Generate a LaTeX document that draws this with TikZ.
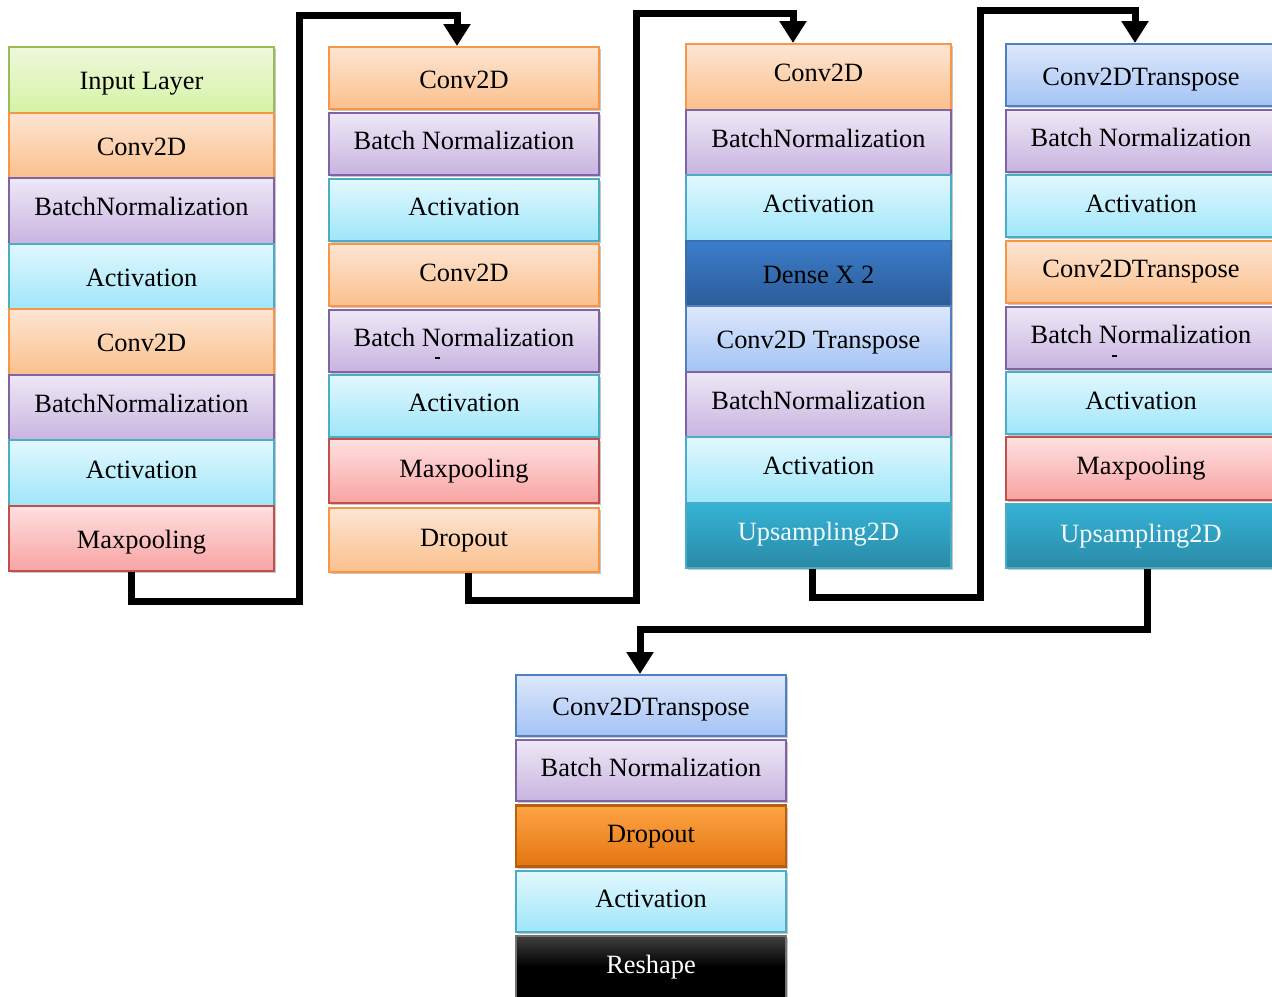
\documentclass[tikz,border=0pt]{standalone}
\usepackage{fontspec}
\setmainfont{Liberation Serif}
\usetikzlibrary{shadows,arrows.meta}
\definecolor{gTop}{HTML}{EEF8DC}\definecolor{gBot}{HTML}{D5F3A5}\definecolor{gLn}{HTML}{9BBB59}
\definecolor{oTop}{HTML}{FDE5D3}\definecolor{oBot}{HTML}{FBC08C}\definecolor{oLn}{HTML}{F79646}
\definecolor{pTop}{HTML}{EEE8F6}\definecolor{pBot}{HTML}{C8B4E0}\definecolor{pLn}{HTML}{8064A2}
\definecolor{cTop}{HTML}{E2F8FE}\definecolor{cBot}{HTML}{9FE6FA}\definecolor{cLn}{HTML}{4BACC6}
\definecolor{rTop}{HTML}{FEE0E0}\definecolor{rBot}{HTML}{F8A3A2}\definecolor{rLn}{HTML}{C0504D}
\definecolor{bTop}{HTML}{DEE8FB}\definecolor{bBot}{HTML}{A3C3F5}\definecolor{bLn}{HTML}{4F81BD}
\definecolor{dTop}{HTML}{3C7DCB}\definecolor{dBot}{HTML}{2B5C98}\definecolor{dLn}{HTML}{3A6FAF}
\definecolor{uTop}{HTML}{35B3D6}\definecolor{uBot}{HTML}{2A8AA6}\definecolor{uLn}{HTML}{4BACC6}
\definecolor{xTop}{HTML}{FFA445}\definecolor{xBot}{HTML}{E27510}\definecolor{xLn}{HTML}{B86010}
\begin{document}
\begin{tikzpicture}[x=0.5pt,y=-0.5pt,
 lay/.style={draw, line width=1pt, inner sep=0pt, text height=13pt, text depth=3pt,
   font=\fontsize{13.2}{15}\selectfont,
   drop shadow={shadow xshift=0.8pt, shadow yshift=-1.2pt, opacity=0.22, fill=black}},
 hi/.style={text depth=8pt},
 mid/.style={text depth=7pt},
 green/.style={top color=gTop, bottom color=gBot, draw=gLn},
 orange/.style={top color=oTop, bottom color=oBot, draw=oLn},
 purple/.style={top color=pTop, bottom color=pBot, draw=pLn},
 cyan/.style={top color=cTop, bottom color=cBot, draw=cLn},
 red/.style={top color=rTop, bottom color=rBot, draw=rLn},
 blue/.style={top color=bTop, bottom color=bBot, draw=bLn},
 dense/.style={top color=dTop, bottom color=dBot, draw=dLn},
 ups/.style={top color=uTop, bottom color=uBot, draw=uLn, text=white!95!cyan},
 drop/.style={top color=xTop, bottom color=xBot, draw=xLn, line width=1.2pt},
 resh/.style={top color=black!75, bottom color=black, middle color=black, draw=black!55, text=white, line width=1.2pt},
 wa/.style={minimum width=132.5pt},
 wb/.style={minimum width=135pt},
 conn/.style={line width=3.5pt, line join=miter, -{Triangle[width=13pt,length=11pt]}},
]
\useasboundingbox (0,0) rectangle (1272,996);
\clip (0,0) rectangle (1272,996);

% column 1
\begin{scope}[every node/.style={lay, wa, minimum height=32.75pt}]
\node[green]  (c1a) at (141.5,79.75)  {Input Layer};
\node[orange] (c1b) at (141.5,145.25) {Conv2D};
\node[purple, hi] (c1c) at (141.5,210.75) {BatchNormalization};
\node[cyan]   (c1d) at (141.5,276.25) {Activation};
\node[orange] (c1e) at (141.5,341.75) {Conv2D};
\node[purple, hi] (c1f) at (141.5,407.25) {BatchNormalization};
\node[cyan, mid]  (c1g) at (141.5,472.75) {Activation};
\node[red]    (c1h) at (141.5,538.25) {Maxpooling};
\end{scope}

% column 2
\begin{scope}[every node/.style={lay, wb, minimum height=31pt}]
\node[orange] (c2a) at (464,78)    {Conv2D};
\node[purple, mid] (c2b) at (464,143.5) {Batch Normalization};
\node[cyan, mid]   (c2c) at (464,209.5) {Activation};
\node[orange, mid] (c2d) at (464,275)   {Conv2D};
\node[purple, mid] (c2e) at (464,340.5) {Batch Normalization};
\node[cyan, mid]   (c2f) at (464,405.5) {Activation};
\node[red, mid, minimum height=32pt]    (c2g) at (464,471)   {Maxpooling};
\node[orange, mid, minimum height=32pt] (c2h) at (464,540)   {Dropout};
\end{scope}
\draw[line width=0.7pt] (435,358) -- (440,358);

% column 3
\begin{scope}[every node/.style={lay, wa, minimum height=32.75pt}]
\node[orange, hi] (c3a) at (818.5,76.75)  {Conv2D};
\node[purple, hi] (c3b) at (818.5,142.25) {BatchNormalization};
\node[cyan, hi]   (c3c) at (818.5,207.75) {Activation};
\node[dense]      (c3d) at (818.5,273.25) {Dense X 2};
\node[blue]       (c3e) at (818.5,338.75) {Conv2D Transpose};
\node[purple, hi] (c3f) at (818.5,404.25) {BatchNormalization};
\node[cyan, hi]   (c3g) at (818.5,469.75) {Activation};
\node[ups, hi]    (c3h) at (818.5,535.25) {Upsampling2D};
\end{scope}

% column 4
\begin{scope}[every node/.style={lay, wb, minimum height=31pt}]
\node[blue]        (c4a) at (1141,75)    {Conv2DTranspose};
\node[purple, mid] (c4b) at (1141,140.5) {Batch Normalization};
\node[cyan, mid]   (c4c) at (1141,206)   {Activation};
\node[orange, mid] (c4d) at (1141,271.5) {Conv2DTranspose};
\node[purple, mid] (c4e) at (1141,337.5) {Batch Normalization};
\node[cyan, mid]   (c4f) at (1141,403)   {Activation};
\node[red, mid, minimum height=31.5pt]  (c4g) at (1141,468.5) {Maxpooling};
\node[ups, mid, minimum height=32pt]    (c4h) at (1141,536)   {Upsampling2D};
\end{scope}
\draw[line width=0.7pt] (1112,356) -- (1117,356);

% bottom column
\begin{scope}[every node/.style={lay, wb, minimum height=30.5pt}]
\node[blue]   (b1) at (651,705.5) {Conv2DTranspose};
\node[purple, mid] (b2) at (651,770.5) {Batch Normalization};
\node[drop, mid]   (b3) at (651,836)   {Dropout};
\node[cyan, mid]   (b4) at (651,901.5) {Activation};
\node[resh, mid, minimum height=31pt]   (b5) at (651,967) {Reshape};
\end{scope}

% connectors
\draw[conn] (131,0 |- c1h.south) |- (299,601) |- (457,15) -- (457,0 |- c2a.north);
\draw[conn] (468,0 |- c2h.south) |- (636,600) |- (793,13) -- (793,0 |- c3a.north);
\draw[conn] (812,0 |- c3h.south) |- (980,597) |- (1135,10) -- (1135,0 |- c4a.north);
\draw[conn] (1147,0 |- c4h.south) |- (640,629) -- (640,0 |- b1.north);
\end{tikzpicture}
\end{document}
